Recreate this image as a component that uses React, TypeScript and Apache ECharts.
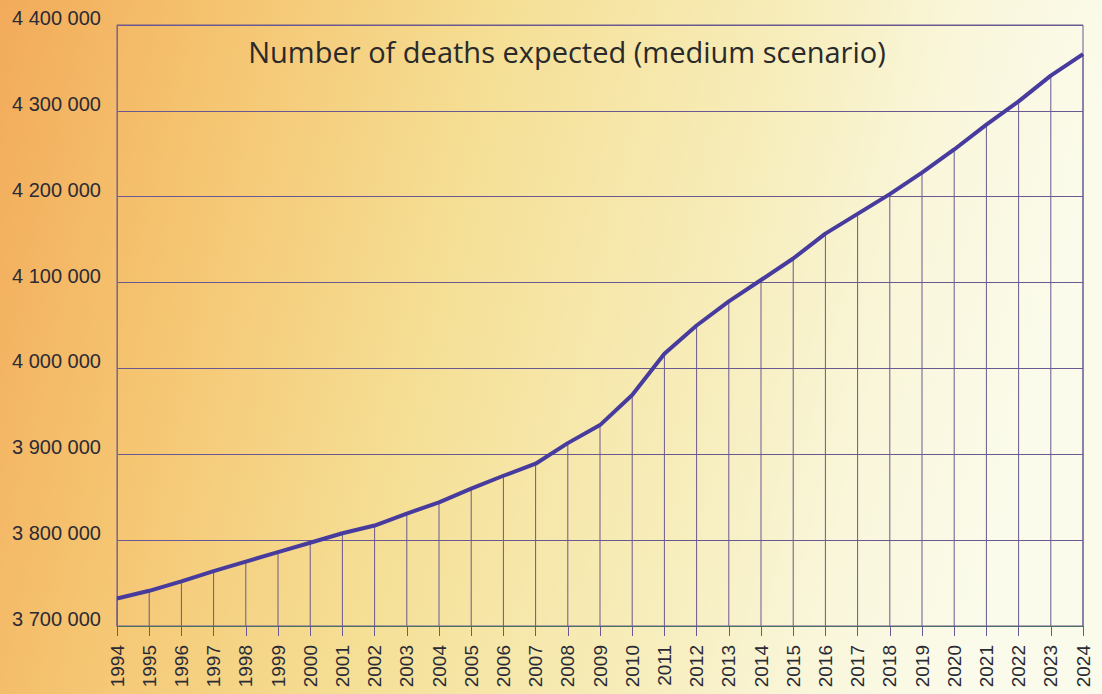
import React, { useEffect, useRef } from "react";
import * as echarts from "echarts";

const years = [
  "1994", "1995", "1996", "1997", "1998", "1999", "2000", "2001", "2002", "2003",
  "2004", "2005", "2006", "2007", "2008", "2009", "2010", "2011", "2012", "2013",
  "2014", "2015", "2016", "2017", "2018", "2019", "2020", "2021", "2022", "2023", "2024",
];

const deaths = [
  3732000, 3741000, 3752000, 3764000, 3775000, 3786000, 3797000, 3808000, 3817000, 3831000,
  3844000, 3860000, 3875000, 3889000, 3913000, 3934000, 3969000, 4017000, 4050000, 4078000,
  4103000, 4128000, 4157000, 4180000, 4203000, 4228000, 4255000, 4284000, 4311000, 4341000, 4366000,
];

const yMin = 3700000;
const yMax = 4400000;
const yStep = 100000;

const titleText = "Number of deaths expected (medium scenario)";

const gridColor = "#6a5890";
const textColor = "#2b2b36";

export default function App() {
  const ref = useRef<HTMLDivElement>(null);

  useEffect(() => {
    if (!ref.current) return;
    const chart = echarts.init(ref.current, null, { renderer: "svg" });
    chart.setOption({
      animation: false,
      backgroundColor: new echarts.graphic.LinearGradient(0, 0, 1, 0.15, [
        { offset: 0, color: "#f2ab5a" },
        { offset: 0.2, color: "#f5c470" },
        { offset: 0.45, color: "#f5df95" },
        { offset: 0.7, color: "#f7edba" },
        { offset: 0.86, color: "#f9f6da" },
        { offset: 1, color: "#fbfbeb" },
      ]),
      grid: {
        left: 117,
        right: 19,
        top: 25,
        bottom: 68,
        show: true,
        borderColor: gridColor,
        borderWidth: 1,
        backgroundColor: "transparent",
      },
      graphic: [
        {
          type: "text",
          x: 567,
          y: 51,
          style: {
            text: titleText,
            fontSize: 29,
            fontFamily: "Open Sans",
            fill: "#2a2a2a",
            align: "center",
            verticalAlign: "middle",
          },
        },
      ],
      xAxis: {
        type: "category",
        data: years,
        boundaryGap: false,
        axisLine: { show: true, lineStyle: { color: "#4a7262", width: 1 } },
        axisTick: { show: true, length: 10, lineStyle: { color: gridColor } },
        axisLabel: {
          rotate: 90,
          interval: 0,
          fontSize: 19,
          margin: 19,
          color: textColor,
          fontFamily: "Liberation Sans",
        },
        splitLine: { show: false },
      },
      yAxis: {
        type: "value",
        min: yMin,
        max: yMax,
        interval: yStep,
        axisLine: { show: true, lineStyle: { color: "#77707a" } },
        axisTick: { show: false },
        axisLabel: {
          fontSize: 20,
          margin: 16,
          color: textColor,
          fontFamily: "Liberation Sans",
          verticalAlign: "bottom",
          lineHeight: 14,
          formatter: (v: number) => String(v).replace(/\B(?=(\d{3})+(?!\d))/g, " "),
        },
        splitLine: { show: true, lineStyle: { color: gridColor, width: 1 } },
      },
      series: [
        {
          type: "bar",
          data: deaths,
          barWidth: 1,
          silent: true,
          itemStyle: { color: gridColor },
          z: 1,
        },
        {
          type: "line",
          data: deaths,
          symbol: "none",
          lineStyle: { color: "#473c9e", width: 4 },
          z: 3,
        },
      ],
    });
    return () => chart.dispose();
  }, []);

  return (
    <div
      ref={ref}
      style={{ position: "absolute", left: 0, top: 0, width: 1102, height: 694 }}
    />
  );
}
